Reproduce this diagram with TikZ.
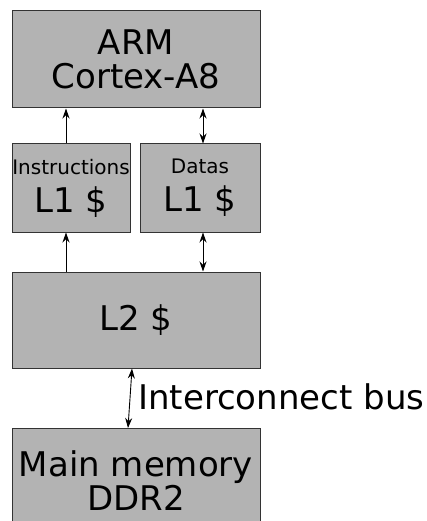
\documentclass[tikz,border=0pt]{standalone}
\usepackage{fontspec}
\setmainfont{DejaVu Sans}
\usetikzlibrary{arrows.meta}
\definecolor{boxgray}{HTML}{B3B3B3}
\begin{document}
\begin{tikzpicture}
      [%%%%%%%%%%%%%%%%%%%%%%%%%%%%%%
      x=1pt, y=-1pt,
      box/.style={rectangle,draw=black!80,fill=boxgray,line width=1pt,inner sep=0pt,
        align=center,font=\fontsize{34}{34}\selectfont},
      link/.style={line width=0.9pt,{Stealth[length=10pt,width=7pt]}-{Stealth[length=10pt,width=7pt]}},
      uplink/.style={line width=0.9pt,-{Stealth[length=10pt,width=7pt]}},
      ]%%%%%%%%%%%%%%%%%%%%%%%%%%%%%%
      \useasboundingbox (0,0) rectangle (427,521);

      \node[box,minimum width=248pt,minimum height=97pt] (arm) at (136,59.5) {ARM\\Cortex-A8};
      \node[box,minimum width=118pt,minimum height=88pt] (ins) at (71,188)
        {{\fontsize{20}{20}\selectfont Instructions}\\[4pt]L1 \$};
      \node[box,minimum width=120pt,minimum height=88pt] (dat) at (200,188)
        {{\fontsize{20}{20}\selectfont Datas}\\[4pt]L1 \$};
      \node[box,minimum width=248pt,minimum height=96pt] (l2) at (136,320) {L2 \$};
      \node[box,minimum width=248pt,minimum height=104pt,anchor=north] (mem) at (136,428)
        {Main memory\\DDR2};

      % links between levels
      \draw[uplink] ([xshift=-5pt]ins.north) -- ([xshift=-5pt]ins.north |- arm.south);
      \draw[link] ([xshift=3pt]dat.north) -- ([xshift=3pt]dat.north |- arm.south);
      \draw[uplink] ([xshift=-5pt]l2.north -| ins.north) -- ([xshift=-5pt]ins.south);
      \draw[link] ([xshift=3pt]l2.north -| dat.north) -- ([xshift=3pt]dat.south);
      \draw[link] ([xshift=-4pt]l2.south) -- ([xshift=-8pt]mem.north);

      \node[anchor=west,inner sep=0pt,font=\fontsize{34}{34}\selectfont] (bus) at (138,397) {Interconnect bus};
    \end{tikzpicture}
\end{document}
